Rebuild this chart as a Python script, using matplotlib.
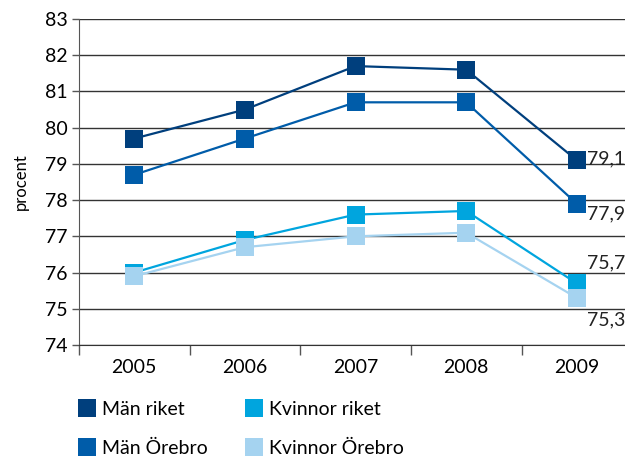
import matplotlib
matplotlib.use('Agg')
import matplotlib.pyplot as plt
from matplotlib.lines import Line2D

# Andel (procent) per år
years = ['2005', '2006', '2007', '2008', '2009']
man_riket = [79.7, 80.5, 81.7, 81.6, 79.1]
man_orebro = [78.7, 79.7, 80.7, 80.7, 77.9]
kvinnor_riket = [76.0, 76.9, 77.6, 77.7, 75.7]
kvinnor_orebro = [75.9, 76.7, 77.0, 77.1, 75.3]

series = [
    ('Män riket', man_riket, '#003f7d'),
    ('Män Örebro', man_orebro, '#005ca9'),
    ('Kvinnor riket', kvinnor_riket, '#00a5de'),
    ('Kvinnor Örebro', kvinnor_orebro, '#a5d3f0'),
]

plt.rcParams['font.family'] = ['Lato', 'DejaVu Sans']

fig = plt.figure(figsize=(6.25, 4.59), dpi=100)
ax = fig.add_axes([0.1264, 0.2484, 0.885, 0.7102])

x = list(range(len(years)))
for name, vals, col in series:
    ax.plot(x, vals, color=col, lw=1.6, marker='s', ms=12.5,
            markeredgewidth=0, zorder=3)

# Värdeetiketter för 2009
def label(vals, dx, dy, va):
    ax.annotate(f'{vals[-1]:.1f}'.replace('.', ','), (x[-1], vals[-1]),
                xytext=(dx, dy), textcoords='offset points',
                ha='left', va=va, fontsize=14, color='#222222')

label(man_riket, 7, 1, 'center')
label(man_orebro, 7, -1, 'top')
label(kvinnor_riket, 7, 9, 'bottom')
label(kvinnor_orebro, 7, -10, 'top')

ax.set_ylim(74, 83)
ax.set_yticks(range(74, 84))
ax.set_xlim(-0.5, 4.5)
ax.set_xticks(x)
ax.set_xticklabels(years)
ax.set_xticks([i - 0.5 for i in range(6)], minor=True)
ax.tick_params(axis='x', which='major', length=0, pad=10, labelsize=14)
ax.tick_params(axis='x', which='minor', length=7, width=1, color='#555555')
ax.tick_params(axis='y', length=5, width=1, color='#555555', labelsize=14, pad=3)

ax.grid(axis='y', color='#333333', lw=1)
ax.set_axisbelow(True)
for s in ['top', 'right']:
    ax.spines[s].set_visible(False)
ax.spines['left'].set_color('#555555')
ax.spines['bottom'].set_color('#333333')

ax.set_ylabel('procent', fontsize=12, labelpad=12)

handles = [Line2D([], [], ls='none', marker='s', ms=13, markeredgewidth=0,
                  color=col, label=name) for name, _, col in series]
fig.legend(handles=handles, ncol=2, frameon=False, fontsize=14,
           loc='upper left', bbox_to_anchor=(0.115, 0.143),
           handlelength=0.8, handletextpad=0.35, columnspacing=2.0,
           labelspacing=1.1, borderaxespad=0)

fig.savefig('out.png', dpi=100)
